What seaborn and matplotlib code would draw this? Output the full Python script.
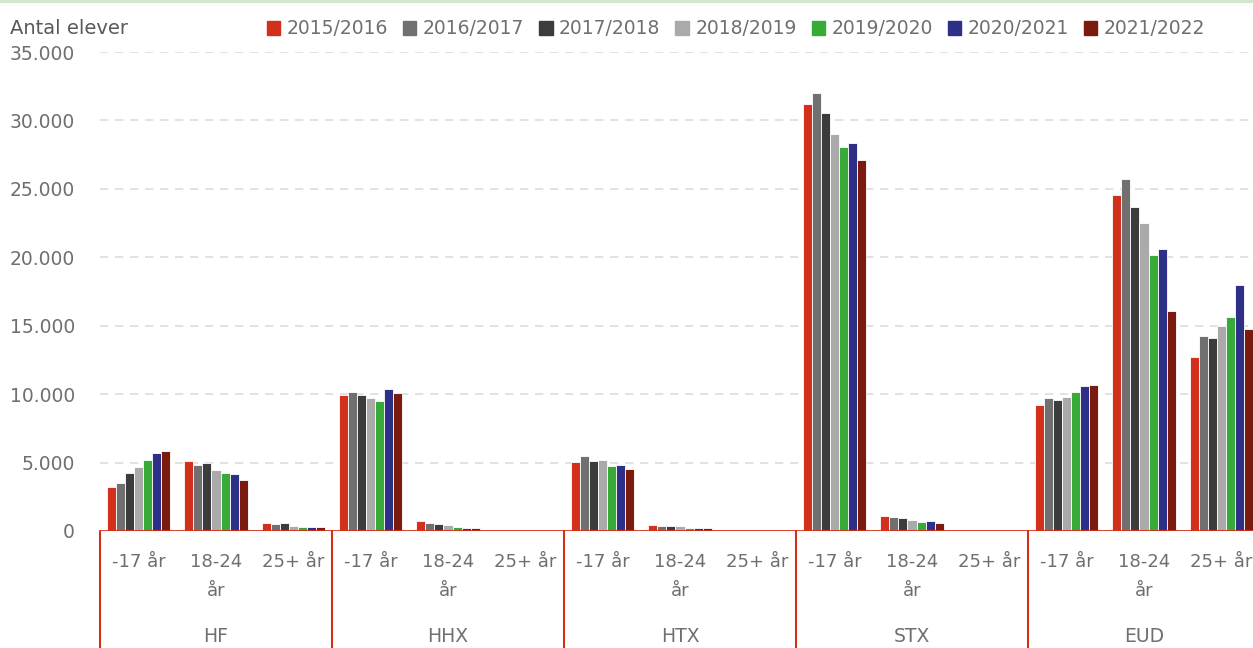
import matplotlib
matplotlib.use("Agg")
import matplotlib.pyplot as plt
from matplotlib.lines import Line2D
import pandas as pd
import seaborn as sns

years = ["2015/2016", "2016/2017", "2017/2018", "2018/2019", "2019/2020", "2020/2021", "2021/2022"]
schools = ["HF", "HHX", "HTX", "STX", "EUD"]
ages = ["-17 år", "18-24\når", "25+ år"]

# one value per school/age group, in order HF, HHX, HTX, STX, EUD x (-17, 18-24, 25+)
y2015 = [3240, 5120, 585, 9930, 750, 0, 5010, 450, 0, 31190, 1110, 0, 9230, 24520, 12710]
y2016 = [3530, 4830, 510, 10150, 600, 0, 5470, 400, 0, 31980, 990, 0, 9740, 25690, 14250]
y2017 = [4240, 4970, 585, 9930, 475, 0, 5080, 330, 0, 30510, 960, 0, 9545, 23640, 14100]
y2018 = [4700, 4460, 365, 9690, 450, 0, 5160, 330, 0, 29000, 840, 0, 9760, 22470, 15010]
y2019 = [5210, 4220, 290, 9500, 310, 0, 4720, 255, 0, 28030, 645, 0, 10130, 20170, 15620]
y2020 = [5700, 4150, 315, 10400, 255, 0, 4790, 255, 0, 28320, 695, 0, 10620, 20570, 18010]
y2021 = [5850, 3710, 270, 10110, 205, 0, 4550, 205, 0, 27100, 620, 0, 10690, 16080, 14760]

series = [y2015, y2016, y2017, y2018, y2019, y2020, y2021]
colors = ["#D2301A", "#707070", "#3C3C3C", "#AAAAAA", "#38AA38", "#2E2F86", "#7B1B10"]

cats = [s + "|" + a for s in schools for a in ages]
rows = []
for yr, vals in zip(years, series):
    for c, v in zip(cats, vals):
        rows.append({"kat": c, "aar": yr, "elever": v})
df = pd.DataFrame(rows)

sns.set_style("white")
plt.rcParams["font.family"] = ["DejaVu Sans"]
grey = "#6f6f6f"
red = "#D2301A"

fig = plt.figure(figsize=(12.53, 6.48), dpi=100)
ax = fig.add_axes([100 / 1253, 117 / 648, 1160 / 1253, 479 / 648])

sns.barplot(data=df, x="kat", y="elever", hue="aar", order=cats, hue_order=years,
            palette=colors, width=0.82, edgecolor="white", linewidth=0.6,
            saturation=1, ax=ax, zorder=3)

ax.set_ylim(0, 35000)
ax.set_xlim(-0.5, len(cats) - 0.5)
ticks = list(range(0, 35001, 5000))
ax.set_yticks(ticks)
ax.set_yticklabels([f"{t:,}".replace(",", ".") for t in ticks], color=grey, fontsize=13.5)
ax.tick_params(axis="y", length=0, pad=18)
for t in ticks[1:]:
    ax.axhline(t, color="#dddddd", lw=1.2, ls=(0, (5, 4)), zorder=1)
ax.axhline(0, color=red, lw=2, zorder=4)

ax.set_xticks(range(len(cats)))
ax.set_xticklabels(ages * len(schools), color=grey, fontsize=13, linespacing=1.75)
ax.tick_params(axis="x", length=0, pad=16)
ax.set_xlabel("")
ax.set_ylabel("")
sns.despine(ax=ax, left=True, bottom=True)

trans = ax.get_xaxis_transform()
for i in range(len(schools) + 1):
    x = -0.5 + 3 * i
    ax.plot([x, x], [0, -0.25], color=red, lw=1.5, transform=trans, clip_on=False)
for i, s in enumerate(schools):
    ax.text(3 * i + 1, -0.221, s, transform=trans, ha="center", va="center",
            color=grey, fontsize=13.5)

fig.text(10 / 1253, 1 - 28 / 648, "Antal elever", color="#595959", fontsize=14,
         ha="left", va="center")

ax.get_legend().remove()
handles = [plt.Rectangle((0, 0), 1, 1, color=c) for c in colors]
fig.legend(handles, years, loc="center", bbox_to_anchor=(736 / 1253, 1 - 29 / 648),
           ncol=7, frameon=False, fontsize=13.5, handlelength=0.7, handleheight=0.7,
           handletextpad=0.35, columnspacing=0.8, labelcolor=grey)

fig.add_artist(Line2D([0, 1], [0.998, 0.998], color="#d5e6cf", lw=3, transform=fig.transFigure))

fig.savefig("out.png", dpi=100)
